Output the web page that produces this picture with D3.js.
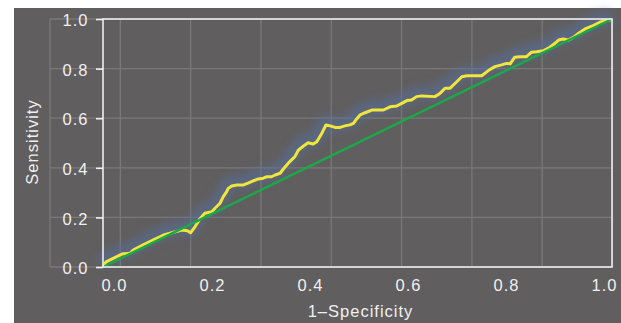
<!DOCTYPE html>
<html>
<head>
<meta charset="utf-8">
<script src="https://cdn.jsdelivr.net/npm/d3@7"></script>
<style>
  html, body { margin: 0; padding: 0; background: #ffffff; }
  svg { display: block; }
  text { font-family: "Liberation Sans", Arial, Helvetica, sans-serif; }
</style>
</head>
<body>
<svg id="chart" width="621" height="323"></svg>
<script>
// ROC curve: false positive rate (1-specificity) vs true positive rate (sensitivity)
const fpr = [0, 0.006, 0.020, 0.037, 0.053, 0.060, 0.079, 0.099, 0.119, 0.135, 0.155, 0.166, 0.172,
  0.181, 0.191, 0.200, 0.214, 0.220, 0.230, 0.236, 0.243, 0.246, 0.253, 0.263, 0.276, 0.285, 0.295,
  0.305, 0.315, 0.322, 0.331, 0.338, 0.348, 0.354, 0.361, 0.367, 0.377, 0.384, 0.394, 0.403, 0.413,
  0.420, 0.428, 0.433, 0.438, 0.446, 0.456, 0.466, 0.475, 0.485, 0.492, 0.498, 0.505, 0.515, 0.528,
  0.551, 0.564, 0.577, 0.587, 0.597, 0.606, 0.616, 0.626, 0.652, 0.662, 0.672, 0.682, 0.695, 0.705,
  0.715, 0.744, 0.757, 0.770, 0.783, 0.793, 0.800, 0.809, 0.819, 0.832, 0.842, 0.852, 0.865, 0.878,
  0.888, 0.895, 0.904, 0.914, 0.924, 0.934, 0.947, 0.963, 0.976, 0.986, 0.996, 1];
const tpr = [0, 0.021, 0.035, 0.052, 0.055, 0.069, 0.089, 0.109, 0.129, 0.138, 0.149, 0.146, 0.138,
  0.163, 0.196, 0.217, 0.223, 0.237, 0.257, 0.283, 0.304, 0.317, 0.327, 0.331, 0.331, 0.338, 0.347,
  0.355, 0.358, 0.364, 0.364, 0.371, 0.378, 0.394, 0.411, 0.425, 0.445, 0.472, 0.488, 0.501, 0.496,
  0.505, 0.532, 0.552, 0.573, 0.569, 0.563, 0.563, 0.569, 0.573, 0.579, 0.596, 0.613, 0.622, 0.633,
  0.633, 0.646, 0.649, 0.660, 0.671, 0.673, 0.687, 0.690, 0.687, 0.700, 0.721, 0.721, 0.747, 0.767,
  0.771, 0.771, 0.792, 0.808, 0.815, 0.821, 0.819, 0.846, 0.848, 0.848, 0.866, 0.868, 0.872, 0.886,
  0.902, 0.915, 0.919, 0.915, 0.926, 0.942, 0.960, 0.973, 0.987, 0.993, 0.996, 1];

// reference (chance) line
const chanceX = [0, 1];
const chanceY = [0, 1];

const xTickValues = [0, 0.2, 0.4, 0.6, 0.8, 1.0];
const xTickLabels = ["0.0", "0.2", "0.4", "0.6", "0.8", "1.0"];
const yTickValues = [0, 0.2, 0.4, 0.6, 0.8, 1.0];
const yTickLabels = ["0.0", "0.2", "0.4", "0.6", "0.8", "1.0"];

const xTitle = "1\u2013Specificity";
const yTitle = "Sensitivity";

// ---- layout ----
const W = 621, H = 323;
const plot = { left: 103, right: 612, top: 19, bottom: 267 };
const gridLeft = 50;
const gridCols = 8;

const svg = d3.select("#chart");

const x = d3.scaleLinear().domain([0, 1]).range([plot.left, plot.right]);
const y = d3.scaleLinear().domain([0, 1]).range([plot.bottom, plot.top]);
// tick labels sit on their own slightly inset scale
const xLab = d3.scaleLinear().domain([0, 1]).range([114, 604]);
const gx = d3.scaleLinear().domain([0, gridCols]).range([gridLeft, plot.right + 0.5]);

const defs = svg.append("defs");
defs.append("filter").attr("id", "glow")
  .attr("x", "-20%").attr("y", "-20%").attr("width", "140%").attr("height", "140%")
  .append("feGaussianBlur").attr("stdDeviation", 5);

// panel background
svg.append("rect").attr("x", 14).attr("y", 8).attr("width", W - 14).attr("height", H - 8)
  .attr("fill", "#605e5e");

// grid
const grid = svg.append("g").attr("stroke", "#7a7878").attr("stroke-width", 1.3);
grid.selectAll("line.v").data(d3.range(0, gridCols + 1)).join("line")
  .attr("class", "v")
  .attr("x1", d => gx(d)).attr("x2", d => gx(d))
  .attr("y1", plot.top).attr("y2", plot.bottom);
grid.selectAll("line.h").data(yTickValues).join("line")
  .attr("class", "h")
  .attr("x1", gridLeft).attr("x2", plot.right)
  .attr("y1", d => y(d)).attr("y2", d => y(d));

// curves
const line = d3.line().x(d => x(d[0])).y(d => y(d[1]));
const rocPts = fpr.map((v, i) => [v, tpr[i]]);
const chancePts = chanceX.map((v, i) => [v, chanceY[i]]);

svg.append("path").datum(rocPts)
  .attr("d", line)
  .attr("fill", "none")
  .attr("stroke", "#56709f")
  .attr("stroke-width", 13)
  .attr("stroke-linejoin", "round")
  .attr("opacity", 0.6)
  .attr("transform", "translate(-1,-3)")
  .attr("filter", "url(#glow)");

svg.append("path").datum(rocPts)
  .attr("d", line)
  .attr("fill", "none")
  .attr("stroke", "#f0e63c")
  .attr("stroke-width", 3)
  .attr("stroke-linejoin", "round");

svg.append("path").datum(chancePts)
  .attr("d", line)
  .attr("fill", "none")
  .attr("stroke", "#1ba84b")
  .attr("stroke-width", 2.5);

// frame
svg.append("rect")
  .attr("x", plot.left).attr("y", plot.top)
  .attr("width", plot.right - plot.left).attr("height", plot.bottom - plot.top)
  .attr("fill", "none").attr("stroke", "#eeeeee").attr("stroke-width", 1.6);

const fontSize = "16.5px";
const spacing = "1px";
const textColor = "#f0f0f0";

// y axis
const yAxis = svg.append("g")
  .attr("transform", `translate(${plot.left},0)`)
  .call(d3.axisLeft(y).tickValues(yTickValues)
    .tickFormat((d, i) => yTickLabels[i]).tickSize(7).tickPadding(7.5));
yAxis.select(".domain").remove();
yAxis.selectAll(".tick line").attr("stroke", "#f4f4f4").attr("stroke-width", 1.6);
yAxis.selectAll(".tick text")
  .attr("fill", textColor).attr("font-size", fontSize).attr("letter-spacing", spacing)
  .attr("dy", "0.4em")
  .style("font-family", "'Liberation Sans', Arial, sans-serif");

// x axis labels
const xAxis = svg.append("g")
  .attr("transform", `translate(0,${plot.bottom})`)
  .call(d3.axisBottom(xLab).tickValues(xTickValues)
    .tickFormat((d, i) => xTickLabels[i]).tickSize(0).tickPadding(12.5));
xAxis.select(".domain").remove();
xAxis.selectAll(".tick text")
  .attr("fill", textColor).attr("font-size", fontSize).attr("letter-spacing", spacing)
  .style("font-family", "'Liberation Sans', Arial, sans-serif");

// titles
svg.append("text")
  .attr("x", 360.5).attr("y", 316.5)
  .attr("text-anchor", "middle")
  .attr("fill", textColor).attr("font-size", fontSize).attr("letter-spacing", spacing)
  .text(xTitle);

svg.append("text")
  .attr("transform", "translate(38,142) rotate(-90)")
  .attr("text-anchor", "middle")
  .attr("fill", textColor).attr("font-size", fontSize).attr("letter-spacing", spacing)
  .text(yTitle);
</script>
</body>
</html>
